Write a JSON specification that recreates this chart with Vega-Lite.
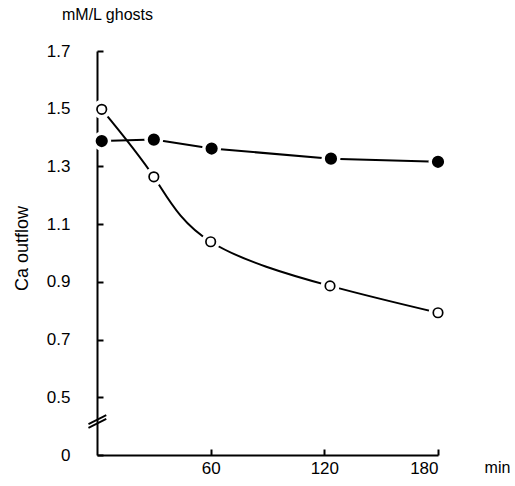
{
  "$schema": "https://vega.github.io/schema/vega-lite/v6.json",
  "autosize": "none",
  "width": 341,
  "height": 404,
  "padding": {"left": 97, "top": 51, "right": 77, "bottom": 31},
  "background": "white",
  "config": {"view": {"stroke": null}},
  "title": {
    "text": "mM/L ghosts",
    "anchor": "start",
    "frame": "group",
    "dx": -35,
    "offset": 6,
    "baseline": "alphabetic",
    "font": "Liberation Sans",
    "fontSize": 16,
    "fontWeight": "normal",
    "color": "black"
  },
  "datasets": {
    "points": [
      {"series": "filled", "t": 2.5, "v": 1.388},
      {"series": "filled", "t": 30, "v": 1.393},
      {"series": "filled", "t": 60.5, "v": 1.362},
      {"series": "filled", "t": 123.5, "v": 1.327},
      {"series": "filled", "t": 180, "v": 1.316},
      {"series": "open", "t": 2.5, "v": 1.498},
      {"series": "open", "t": 30, "v": 1.264},
      {"series": "open", "t": 60, "v": 1.039},
      {"series": "open", "t": 123, "v": 0.886},
      {"series": "open", "t": 180, "v": 0.793}
    ],
    "breaks": [
      {"t": -4.5, "t2": 4.9, "v": 0.407, "v2": 0.438},
      {"t": -4.5, "t2": 4.9, "v": 0.394, "v2": 0.425}
    ]
  },
  "layer": [
    {
      "data": {"name": "points"},
      "transform": [{"filter": "datum.series === 'filled'"}],
      "mark": {"type": "line", "color": "black", "strokeWidth": 2, "interpolate": "linear"},
      "encoding": {
        "x": {
          "field": "t", "type": "quantitative",
          "scale": {"domain": [0, 180], "nice": false, "zero": false},
          "axis": {
            "values": [60, 120, 180],
            "grid": false,
            "tickSize": -6,
            "tickWidth": 2,
            "tickColor": "black",
            "domainWidth": 2,
            "domainColor": "black",
            "labelPadding": 11,
            "labelFont": "Liberation Sans",
            "labelFontSize": 17,
            "labelColor": "black",
            "labelBaseline": "top",
            "title": "min",
            "titleFont": "Liberation Sans",
            "titleFontSize": 16,
            "titleFontWeight": "normal",
            "titleColor": "black",
            "titleX": 400,
            "titleY": 12,
            "titleAlign": "center",
            "titleBaseline": "middle",
            "titleAngle": 0
          }
        },
        "y": {
          "field": "v", "type": "quantitative",
          "scale": {"domain": [0.3, 1.7], "nice": false, "zero": false},
          "axis": {
            "values": [0.3, 0.5, 0.7, 0.9, 1.1, 1.3, 1.5, 1.7],
            "labelExpr": "datum.value < 0.35 ? '0' : format(datum.value, '.1f')",
            "grid": false,
            "tickSize": -6,
            "tickWidth": 2,
            "tickColor": "black",
            "domainWidth": 2,
            "domainColor": "black",
            "labelPadding": 33,
            "labelFont": "Liberation Sans",
            "labelFontSize": 17,
            "labelColor": "black",
            "title": "Ca outflow",
            "titleFont": "Liberation Sans",
            "titleFontSize": 18,
            "titleFontWeight": "normal",
            "titleColor": "black",
            "titleAngle": 270,
            "titleX": -75,
            "titleY": 197,
            "titleAlign": "center",
            "titleBaseline": "middle"
          }
        }
      }
    },
    {
      "data": {"name": "points"},
      "transform": [{"filter": "datum.series === 'open'"}],
      "mark": {"type": "line", "color": "black", "strokeWidth": 2, "interpolate": "natural"},
      "encoding": {
        "x": {"field": "t", "type": "quantitative"},
        "y": {"field": "v", "type": "quantitative"}
      }
    },
    {
      "data": {"name": "points"},
      "mark": {"type": "point", "shape": "circle", "filled": true, "color": "white", "opacity": 1, "size": 360},
      "encoding": {
        "x": {"field": "t", "type": "quantitative"},
        "y": {"field": "v", "type": "quantitative"}
      }
    },
    {
      "data": {"name": "points"},
      "mark": {"type": "point", "shape": "circle", "stroke": "black", "strokeWidth": 1.7, "opacity": 1},
      "encoding": {
        "x": {"field": "t", "type": "quantitative"},
        "y": {"field": "v", "type": "quantitative"},
        "fill": {
          "field": "series", "type": "nominal",
          "scale": {"domain": ["filled", "open"], "range": ["black", "white"]},
          "legend": null
        },
        "size": {
          "field": "series", "type": "nominal",
          "scale": {"domain": ["filled", "open"], "range": [110, 90]},
          "legend": null
        }
      }
    },
    {
      "data": {"name": "breaks"},
      "mark": {"type": "rule", "color": "black", "strokeWidth": 1.8},
      "encoding": {
        "x": {"field": "t", "type": "quantitative"},
        "x2": {"field": "t2"},
        "y": {"field": "v", "type": "quantitative"},
        "y2": {"field": "v2"}
      }
    }
  ]
}
